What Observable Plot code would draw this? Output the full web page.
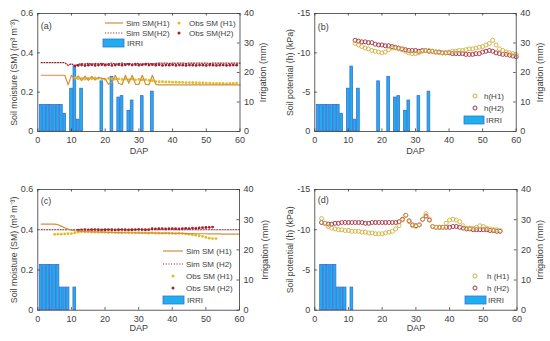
<!DOCTYPE html>
<html><head><meta charset="utf-8">
<script src="https://cdn.jsdelivr.net/npm/d3@7"></script>
<script src="https://cdn.jsdelivr.net/npm/@observablehq/plot@0.6"></script>
<style>
body{margin:0;background:#fff;}
#wrap{position:relative;width:550px;height:341px;overflow:hidden;}
#wrap svg{position:absolute;}
</style></head><body><div id="wrap"></div>
<script>
// ================= DATA =================
const xTicks = [0, 10, 20, 30, 40, 50, 60];
const smTicks = [0, 0.2, 0.4, 0.6];
const hTicks = [0, -5, -10, -15];
const irrTicks = [0, 10, 20, 30, 40];

// Irrigation (mm)
const irrDayAB = [1,2,3,4,5,6,7,8,10,11,12,13,19,22,24,25,27,28,31,34];
const irrMmAB  = [9,9,9,9,9,9,9,6,14.5,22,4,14.5,17,18.5,11.5,12,7,10.5,12,13.5];
const irrDayC  = [1,2,3,4,5,6,7,8,9,11];
const irrMmC   = [15,15,15,15,15,15,7.5,7.5,7.5,7.5];
const irrDayD  = [2,3,4,5,6,7,8,9,11];
const irrMmD   = [15,15,15,15,15,7.5,7.5,7.5,7.5];

// Panel (a): soil moisture, DAP 1..60 for simulations
const simDay = d3.range(1, 61);
const simH1a = [0.286,0.286,0.286,0.286,0.286,0.286,0.286,0.286,
  0.237,0.286,0.262,0.283,0.258,0.282,0.260,0.280,0.262,0.276,
  0.270,0.266,0.240,0.250,0.286,0.245,0.238,0.286,0.245,0.286,
  0.240,0.240,0.286,0.240,0.238,0.286,0.240,
  0.237,0.237,0.237,0.237,0.237,0.237,0.237,0.237,0.237,0.237,
  0.237,0.237,0.237,0.237,0.237,0.237,0.237,0.237,0.237,0.237,
  0.237,0.237,0.237,0.237,0.237];
const simH2a = [0.350,0.350,0.350,0.350,0.350,0.350,0.350,0.350,
  0.336,0.345,0.333,0.342,0.345,0.343,0.347,0.342,0.346,0.344,
  0.347,0.342,0.345,0.348,0.343,0.345,0.348,0.343,0.346,0.343,
  0.347,0.345,0.342,0.346,0.347,0.343,0.346,
  0.348,0.347,0.348,0.346,0.348,0.347,0.348,0.348,0.346,0.348,
  0.347,0.348,0.348,0.347,0.348,0.346,0.348,0.348,0.347,0.348,
  0.348,0.347,0.348,0.348,0.348];
const obsDayA = d3.range(11, 60);
const obsH1a = [0.272,0.268,0.270,0.266,0.270,0.268,0.272,0.270,0.268,0.266,
  0.270,0.268,0.266,0.268,0.265,0.267,0.264,0.266,0.263,0.265,
  0.262,0.264,0.260,0.258,0.254,0.253,0.253,0.252,0.252,0.251,
  0.251,0.250,0.250,0.249,0.249,0.248,0.248,0.247,0.247,0.246,
  0.246,0.245,0.245,0.244,0.244,0.243,0.244,0.245,0.246];
const obsH2a = [0.334,0.336,0.338,0.335,0.337,0.339,0.336,0.338,0.340,0.337,
  0.339,0.336,0.338,0.340,0.337,0.339,0.341,0.338,0.340,0.337,
  0.339,0.341,0.338,0.340,0.337,0.339,0.336,0.338,0.337,0.339,
  0.336,0.338,0.337,0.336,0.338,0.337,0.336,0.338,0.337,0.336,
  0.338,0.337,0.336,0.337,0.338,0.336,0.337,0.338,0.337];

// Panel (b): soil potential (kPa), DAP 12..60
const hDayB = d3.range(12, 61);
const hH1b = [-11.2,-11.0,-10.8,-10.6,-10.5,-10.3,-10.2,-10.1,-10.0,-10.1,
  -10.4,-10.6,-10.6,-10.5,-10.4,-10.2,-10.0,-9.9,-9.9,-10.0,
  -10.2,-10.3,-10.3,-10.2,-10.1,-10.0,-10.0,-10.0,-10.1,-10.2,
  -10.2,-10.3,-10.3,-10.4,-10.5,-10.5,-10.6,-10.7,-10.8,-11.0,
  -11.2,-11.6,-11.0,-10.5,-10.3,-10.1,-10.0,-9.9,-9.8];
const hH2b = [-11.6,-11.5,-11.4,-11.4,-11.3,-11.3,-11.1,-11.0,-11.0,-10.9,
  -10.9,-10.8,-10.7,-10.6,-10.5,-10.4,-10.3,-10.3,-10.3,-10.2,
  -10.3,-10.3,-10.2,-10.2,-10.1,-10.1,-10.0,-10.0,-10.0,-9.9,
  -9.9,-9.9,-9.9,-9.8,-9.8,-9.8,-9.9,-9.9,-10.1,-10.2,
  -10.3,-10.2,-10.0,-9.9,-9.8,-9.8,-9.7,-9.6,-9.5];

// Panel (c): soil moisture
const simH1c = [0.428,0.428,0.428,0.428,0.428,0.425,0.418,0.410,0.403,0.398,
  0.395,0.393,0.392,0.391,0.390,0.390,0.389,0.389,0.388,0.388,
  0.387,0.387,0.386,0.386,0.386,0.385,0.385,0.385,0.385,0.384,
  0.384,0.384,0.384,0.384,0.383,0.383,0.383,0.383,0.383,0.382,
  0.382,0.382,0.382,0.381,0.381,0.381,0.380,0.380,0.380,0.380,
  0.379,0.379,0.379,0.379,0.378,0.378,0.378,0.378,0.378,0.378];
const simH2c = [0.400,0.400,0.400,0.400,0.400,0.400,0.400,0.400,0.400,0.400,
  0.400,0.400,0.400,0.400,0.400,0.400,0.400,0.400,0.400,0.400,
  0.400,0.400,0.400,0.400,0.400,0.400,0.400,0.400,0.400,0.400,
  0.400,0.400,0.400,0.400,0.400,0.400,0.400,0.400,0.400,0.400,
  0.400,0.400,0.400,0.400,0.400,0.400,0.400,0.400,0.400,0.400,
  0.400,0.400,0.400,0.400,0.400,0.400,0.400,0.400,0.400,0.400];
const obsDayC1 = d3.range(5, 54);
const obsH1c = [0.377,0.378,0.378,0.379,0.380,0.381,0.384,0.388,0.390,0.389,
  0.389,0.388,0.388,0.387,0.388,0.387,0.386,0.387,0.386,0.386,
  0.385,0.386,0.385,0.385,0.384,0.385,0.384,0.384,0.383,0.384,
  0.383,0.383,0.382,0.383,0.382,0.382,0.381,0.382,0.381,0.379,
  0.377,0.375,0.373,0.370,0.367,0.362,0.358,0.356,0.356];
const obsDayC2 = d3.range(12, 53);
const obsH2c = [0.398,0.399,0.400,0.399,0.400,0.401,0.400,0.399,0.400,0.401,
  0.400,0.399,0.400,0.401,0.400,0.399,0.400,0.401,0.402,0.401,
  0.400,0.401,0.405,0.404,0.405,0.406,0.404,0.405,0.406,0.405,
  0.404,0.405,0.407,0.406,0.408,0.407,0.409,0.410,0.411,0.412,
  0.413];

// Panel (d): soil potential (kPa), DAP 2..55
const hDayD = d3.range(2, 56);
const hH1d = [-11.4,-10.8,-10.4,-10.2,-10.1,-10.0,-10.0,-9.9,-9.9,-9.8,
  -9.8,-9.8,-9.7,-9.7,-9.6,-9.6,-9.5,-9.5,-9.5,-9.6,
  -9.7,-9.8,-10.1,-10.5,-11.2,-11.8,-11.0,-10.5,-10.4,-10.6,
  -11.3,-12.0,-11.3,-10.4,-10.3,-10.3,-10.3,-10.8,-11.2,-11.3,
  -11.2,-11.0,-10.5,-10.2,-10.2,-10.2,-10.3,-10.5,-10.4,-10.2,
  -10.1,-10.0,-10.0,-9.9];
const hH2d = [-10.9,-10.8,-10.7,-10.7,-10.8,-10.8,-10.9,-10.9,-10.9,-10.9,
  -10.9,-10.9,-10.9,-10.8,-10.8,-10.9,-10.9,-10.9,-10.9,-10.9,
  -10.9,-10.9,-10.9,-11.0,-11.3,-11.8,-11.1,-10.6,-10.5,-10.6,
  -11.3,-11.7,-11.2,-10.4,-10.3,-10.3,-10.3,-10.3,-10.3,-10.4,
  -10.4,-10.3,-10.2,-10.1,-10.1,-10.0,-10.0,-10.0,-10.0,-10.0,
  -9.9,-9.9,-9.8,-9.8];

// ================= STYLE =================
const FONT = '"Liberation Sans", Arial, Helvetica, sans-serif';
const TXT = "#404040";
const AX = "#3a3a3a";
const C_SIM1 = "#CF9040";
const C_OBS1 = "#E2BC20";
const C_SIM2 = "#8E2535";
const C_OBS2 = "#A0202F";
const C_H1 = "#D2B040";
const C_H2 = "#A3303F";
const C_BAR = "#1EB0EE";
const C_BAR_S = "#3C6ED8";

const zip = (xs, ys) => xs.map((x, i) => ({x, y: ys[i]}));

function panel(cfg) {
  const {left, top, height, mL, mR, mT, mB, yDomain, yTicks, k, irrDay, irrMm, series, ylabel, letter, rYlabelX, lYlabelX} = cfg;
  const width = 275;
  const plotW = width - mL - mR, plotH = height - mT - mB;
  const tx = 2.6 * 60 / plotW;
  const ty = 2.6 * (yDomain[1] - yDomain[0]) / plotH;
  const bars = irrDay.map((d, i) => ({d, v: irrMm[i] * k}));
  const irrPos = irrTicks.map(v => v * k);
  const marks = [
    Plot.rect(bars, {x1: r => r.d - 0.4, x2: r => r.d + 0.4, y1: 0, y2: "v", fill: C_BAR, stroke: C_BAR_S, strokeWidth: 0.8}),
    ...series,
    Plot.frame({stroke: AX, strokeWidth: 0.8}),
    Plot.ruleX(xTicks, {x: d => d, y1: yDomain[0], y2: yDomain[0] + ty, stroke: AX, strokeWidth: 0.8}),
    Plot.ruleX(xTicks, {x: d => d, y1: yDomain[1], y2: yDomain[1] - ty, stroke: AX, strokeWidth: 0.8}),
    Plot.ruleY(yTicks, {y: d => d, x1: 0, x2: tx, stroke: AX, strokeWidth: 0.8}),
    Plot.ruleY(irrPos, {y: d => d, x1: 60 - tx, x2: 60, stroke: AX, strokeWidth: 0.8}),
    Plot.axisX(xTicks, {tickSize: 0, tickPadding: 5.5, label: null, fill: TXT}),
    Plot.axisY(yTicks, {anchor: "left", tickSize: 0, tickPadding: 4.5, label: null, tickFormat: d => String(d), fill: TXT}),
    Plot.axisY(irrPos, {anchor: "right", tickSize: 0, tickPadding: 4, label: null, tickFormat: d => String(Math.abs(Math.round(d / k))), fill: TXT}),
    Plot.text(["DAP"], {frameAnchor: "bottom", dy: cfg.dapDy, fill: TXT, fontSize: 9}),
    Plot.text([ylabel], {frameAnchor: "left", textAnchor: "middle", rotate: -90, dx: lYlabelX - mL, fill: TXT, fontSize: 8.8}),
    Plot.text(["Irrigation (mm)"], {frameAnchor: "right", textAnchor: "middle", rotate: -90, dx: rYlabelX - (width - mR), fill: TXT, fontSize: 9.2}),
    Plot.text([letter], {frameAnchor: "top-left", textAnchor: "start", dx: 3, dy: cfg.letterDy, fill: TXT})
  ];
  const svg = Plot.plot({
    width, height,
    marginLeft: mL, marginRight: mR, marginTop: mT, marginBottom: mB,
    x: {domain: [0, 60]},
    y: {domain: yDomain},
    style: {fontFamily: FONT, fontSize: "9px", color: TXT, background: "none", overflow: "visible"},
    marks
  });
  svg.style.left = left + "px";
  svg.style.top = top + "px";
  document.getElementById("wrap").appendChild(svg);
  return svg;
}

function legend(svg, items) {
  const g = d3.select(svg).append("g").attr("font-family", FONT).attr("font-size", 8)
    .attr("fill", TXT).attr("text-anchor", "start");
  for (const it of items) {
    if (it.kind === "line") {
      g.append("line").attr("x1", it.sx).attr("x2", it.sx + it.sw).attr("y1", it.y).attr("y2", it.y)
        .attr("stroke", it.color).attr("stroke-width", 1.2).attr("stroke-dasharray", it.dash || null);
    } else if (it.kind === "dot") {
      g.append("circle").attr("cx", it.sx).attr("cy", it.y).attr("r", 1.5).attr("fill", it.color);
    } else if (it.kind === "ring") {
      g.append("circle").attr("cx", it.sx).attr("cy", it.y).attr("r", 2).attr("fill", "none").attr("stroke", it.color).attr("stroke-width", 1);
    } else if (it.kind === "rect") {
      g.append("rect").attr("x", it.sx).attr("y", it.y - 4).attr("width", it.sw).attr("height", 8)
        .attr("fill", C_BAR).attr("stroke", C_BAR_S).attr("stroke-width", 0.8);
    }
    g.append("text").attr("x", it.tx).attr("y", it.y).attr("dy", "0.35em").attr("text-anchor", "start").text(it.label);
  }
}

const dotted = "1.1,1.6";
const simLine = (xs, ys, color, dash) => Plot.line(zip(xs, ys), {x: "x", y: "y", stroke: color, strokeWidth: 1.2, strokeDasharray: dash || null});
const obsDot = (xs, ys, color) => Plot.dot(zip(xs, ys), {x: "x", y: "y", r: 1.4, fill: color, stroke: "none"});
const ring = (xs, ys, color) => Plot.dot(zip(xs, ys), {x: "x", y: "y", r: 2, fill: "none", stroke: color, strokeWidth: 0.9});

const smLabel = "Soil moisture (SM) (m³ m⁻³)";
const hLabel = "Soil potential (h) (kPa)";

// (a)
const sa = panel({left: 0, top: 0, height: 170, mL: 37.3, mR: 35.5, mT: 13, mB: 39,
  yDomain: [0, 0.6], yTicks: smTicks, k: 0.6 / 40, irrDay: irrDayAB, irrMm: irrMmAB,
  series: [simLine(simDay, simH2a, C_SIM2, dotted), obsDot(obsDayA, obsH2a, C_OBS2),
           obsDot(obsDayA, obsH1a, C_OBS1), simLine(simDay, simH1a, C_SIM1)],
  ylabel: smLabel, letter: "(a)", lYlabelX: 14, rYlabelX: 263, dapDy: 22, letterDy: 9});
legend(sa, [
  {kind: "line", sx: 105, sw: 18, y: 23, color: C_SIM1, tx: 126, label: "Sim SM(H1)"},
  {kind: "dot", sx: 179, y: 23, color: C_OBS1, tx: 189, label: "Obs SM (H1)"},
  {kind: "line", sx: 105, sw: 18, y: 33, color: C_SIM2, dash: dotted, tx: 126, label: "Sim SM(H2)"},
  {kind: "dot", sx: 179, y: 33, color: C_OBS2, tx: 189, label: "Obs SM(H2)"},
  {kind: "rect", sx: 103, sw: 21, y: 43, tx: 127, label: "IRRI"}
]);

// (b)
const sb = panel({left: 275, top: 0, height: 170, mL: 39.3, mR: 34.3, mT: 13, mB: 39,
  yDomain: [0, -15], yTicks: hTicks, k: -15 / 40, irrDay: irrDayAB, irrMm: irrMmAB,
  series: [ring(hDayB, hH2b, C_H2), ring(hDayB, hH1b, C_H1)],
  ylabel: hLabel, letter: "(b)", lYlabelX: 15, rYlabelX: 265, dapDy: 22, letterDy: 10});
legend(sb, [
  {kind: "ring", sx: 200, y: 96, color: C_H1, tx: 209, label: "h(H1)"},
  {kind: "ring", sx: 200, y: 108, color: C_H2, tx: 209, label: "h(H2)"},
  {kind: "rect", sx: 189, sw: 20, y: 120, tx: 211, label: "IRRI"}
]);

// (c)
const sc = panel({left: 0, top: 170, height: 171, mL: 37.3, mR: 36, mT: 19, mB: 31.3,
  yDomain: [0, 0.6], yTicks: smTicks, k: 0.6 / 40, irrDay: irrDayC, irrMm: irrMmC,
  series: [simLine(simDay, simH2c, C_SIM2, dotted), obsDot(obsDayC2, obsH2c, C_OBS2),
           obsDot(obsDayC1, obsH1c, C_OBS1), simLine(simDay, simH1c, C_SIM1)],
  ylabel: smLabel, letter: "(c)", lYlabelX: 14, rYlabelX: 265, dapDy: 21, letterDy: 8});
legend(sc, [
  {kind: "line", sx: 163, sw: 20, y: 81, color: C_SIM1, tx: 186, label: "Sim SM (H1)"},
  {kind: "line", sx: 163, sw: 20, y: 94, color: C_SIM2, dash: dotted, tx: 186, label: "Sim SM (H2)"},
  {kind: "dot", sx: 173, y: 106, color: C_OBS1, tx: 186, label: "Obs SM (H1)"},
  {kind: "dot", sx: 173, y: 118, color: C_OBS2, tx: 186, label: "Obs SM (H2)"},
  {kind: "rect", sx: 163, sw: 21, y: 130, tx: 187, label: "IRRI"}
]);

// (d)
const sd = panel({left: 275, top: 170, height: 171, mL: 39.3, mR: 33.5, mT: 19, mB: 31.3,
  yDomain: [0, -15], yTicks: hTicks, k: -15 / 40, irrDay: irrDayD, irrMm: irrMmD,
  series: [ring(hDayD, hH2d, C_H2), ring(hDayD, hH1d, C_H1)],
  ylabel: hLabel, letter: "(d)", lYlabelX: 15, rYlabelX: 265, dapDy: 21, letterDy: 7});
legend(sd, [
  {kind: "ring", sx: 200, y: 106, color: C_H1, tx: 212, label: "h (H1)"},
  {kind: "ring", sx: 200, y: 118, color: C_H2, tx: 212, label: "h (H2)"},
  {kind: "rect", sx: 190, sw: 21, y: 130, tx: 213, label: "IRRI"}
]);
</script></body></html>
